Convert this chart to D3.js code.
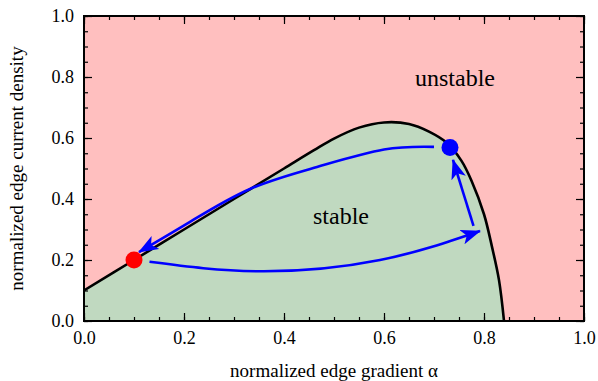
<!DOCTYPE html>
<html>
<head>
<meta charset="utf-8">
<script src="https://cdn.jsdelivr.net/npm/d3@7"></script>
<style>
  body { margin: 0; background: #fff; }
  svg text { font-family: "Liberation Serif", "DejaVu Serif", serif; }
</style>
</head>
<body>
<script>
// stability boundary (edge gradient alpha vs current density)
var boundaryAlpha = [0, 0.1, 0.2, 0.3, 0.4, 0.46, 0.5, 0.55, 0.6, 0.65, 0.69, 0.725, 0.755, 0.775, 0.8, 0.816, 0.83, 0.84];
var boundaryJ     = [0.1, 0.2, 0.3, 0.4, 0.5, 0.56, 0.598, 0.634, 0.651, 0.646, 0.621, 0.585, 0.525, 0.46, 0.35, 0.243, 0.134, 0];

// cycle arrows
var lowerAlpha = [0.131, 0.352, 0.592, 0.792];
var lowerJ     = [0.194, 0.163, 0.2, 0.295];
var upperAlpha = [0.7, 0.6, 0.466, 0.332, 0.212, 0.11];
var upperJ     = [0.571, 0.562, 0.505, 0.433, 0.325, 0.226];
var riseAlpha  = [0.779, 0.738];
var riseJ      = [0.312, 0.528];

// operating points
var points = [
  { alpha: 0.1, j: 0.2, color: "#ff0000" },
  { alpha: 0.732, j: 0.569, color: "#0000ff" }
];

var majorTicks = [0, 0.2, 0.4, 0.6, 0.8, 1.0];
var minorTicks = d3.range(0, 1.0001, 0.05);

var w = 598, h = 381;
var x = d3.scaleLinear().domain([0, 1]).range([84, 584]);
var y = d3.scaleLinear().domain([0, 1]).range([321, 16]);

var svg = d3.select("body").append("svg")
  .attr("width", w)
  .attr("height", h);

var defs = svg.append("defs");
defs.append("clipPath").attr("id", "plotclip")
  .append("rect")
  .attr("x", x(0)).attr("y", y(1))
  .attr("width", x(1) - x(0)).attr("height", y(0) - y(1));

defs.append("marker")
  .attr("id", "head")
  .attr("viewBox", "0 -8 20 16")
  .attr("refX", 19).attr("refY", 0)
  .attr("markerWidth", 20).attr("markerHeight", 16)
  .attr("markerUnits", "userSpaceOnUse")
  .attr("orient", "auto")
  .append("path")
  .attr("d", "M0,-7.5L20,0L0,7.5L5,0Z")
  .attr("fill", "#0000ff");

// background = unstable
svg.append("rect")
  .attr("x", x(0)).attr("y", y(1))
  .attr("width", x(1) - x(0)).attr("height", y(0) - y(1))
  .attr("fill", "#ffbfbf");

var boundary = boundaryAlpha.map(function (a, i) { return [a, boundaryJ[i]]; });

var line = d3.line()
  .x(function (d) { return x(d[0]); })
  .y(function (d) { return y(d[1]); })
  .curve(d3.curveCatmullRom.alpha(0.5));

var smooth = d3.line()
  .x(function (d) { return x(d[0]); })
  .y(function (d) { return y(d[1]); })
  .curve(d3.curveNatural);

var area = d3.area()
  .x(function (d) { return x(d[0]); })
  .y0(y(0))
  .y1(function (d) { return y(d[1]); })
  .curve(d3.curveCatmullRom.alpha(0.5));

var plot = svg.append("g").attr("clip-path", "url(#plotclip)");

plot.append("path")
  .datum(boundary)
  .attr("d", area)
  .attr("fill", "#c0d9c0");

plot.append("path")
  .datum(boundary)
  .attr("d", line)
  .attr("fill", "none")
  .attr("stroke", "#000")
  .attr("stroke-width", 2.6);

// arrows
var arrows = [
  lowerAlpha.map(function (a, i) { return [a, lowerJ[i]]; }),
  upperAlpha.map(function (a, i) { return [a, upperJ[i]]; }),
  riseAlpha.map(function (a, i) { return [a, riseJ[i]]; })
];

plot.selectAll(".arrow")
  .data(arrows)
  .enter()
  .append("path")
  .attr("class", "arrow")
  .attr("d", smooth)
  .attr("fill", "none")
  .attr("stroke", "#0000ff")
  .attr("stroke-width", 2.6)
  .attr("marker-end", "url(#head)");

plot.selectAll("circle")
  .data(points)
  .enter()
  .append("circle")
  .attr("cx", function (d) { return x(d.alpha); })
  .attr("cy", function (d) { return y(d.j); })
  .attr("r", 8.5)
  .attr("fill", function (d) { return d.color; });

// region labels
svg.append("text")
  .attr("x", 455).attr("y", 86)
  .attr("text-anchor", "middle")
  .style("font-size", "24px")
  .text("unstable");

svg.append("text")
  .attr("x", 341).attr("y", 224)
  .attr("text-anchor", "middle")
  .style("font-size", "24px")
  .text("stable");

// ticks on all sides, pointing in
function tickAxis(axis, ticks, size, labels) {
  return axis.tickValues(ticks).tickSize(-size).tickPadding(10)
    .tickFormat(labels ? d3.format(".1f") : "");
}

var axes = [
  [d3.axisBottom(x), "translate(0," + y(0) + ")", true],
  [d3.axisTop(x), "translate(0," + y(1) + ")", false],
  [d3.axisLeft(y), "translate(" + x(0) + ",0)", true],
  [d3.axisRight(y), "translate(" + x(1) + ",0)", false]
];

axes.forEach(function (a) {
  svg.append("g").attr("transform", a[1])
    .call(tickAxis(a[0], minorTicks, 4, false))
    .call(function (g) { g.select(".domain").remove(); })
    .selectAll("line").attr("stroke", "#000").attr("stroke-width", 1.2);
  var g = svg.append("g").attr("transform", a[1])
    .call(tickAxis(a[0], majorTicks, 8, a[2]))
    .attr("font-family", "'Liberation Serif', serif")
    .attr("font-size", 18);
  g.select(".domain").remove();
  g.selectAll("line").attr("stroke", "#000").attr("stroke-width", 1.2);
  g.selectAll("text").attr("fill", "#000");
});

svg.append("rect")
  .attr("x", x(0)).attr("y", y(1))
  .attr("width", x(1) - x(0)).attr("height", y(0) - y(1))
  .attr("fill", "none")
  .attr("stroke", "#000")
  .attr("stroke-width", 2);

svg.append("text")
  .attr("x", (x(0) + x(1)) / 2).attr("y", 377)
  .attr("text-anchor", "middle")
  .style("font-size", "19px")
  .text("normalized edge gradient α");

svg.append("text")
  .attr("transform", "translate(23," + (y(0) + y(1)) / 2 + ") rotate(-90)")
  .attr("text-anchor", "middle")
  .style("font-size", "19px")
  .text("normalized edge current density");
</script>
</body>
</html>
